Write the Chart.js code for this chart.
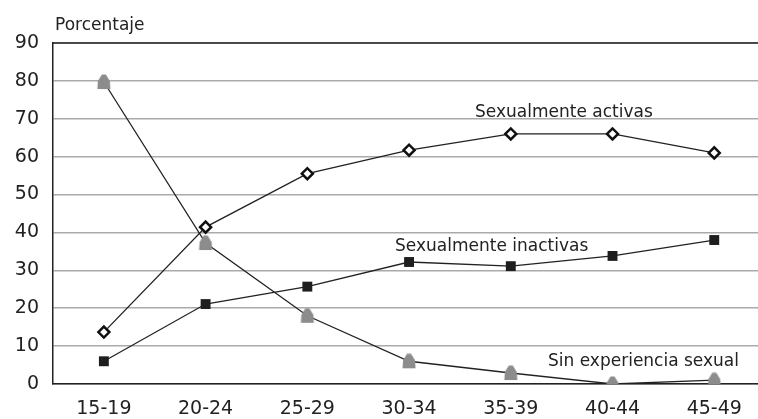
<!DOCTYPE html>
<html>
<head>
<script src="https://cdn.jsdelivr.net/npm/chart.js@4.4.2/dist/chart.umd.min.js"></script>
<style>
html, body {
    margin: 0;
    padding: 0;
    background: #fff;
    overflow: hidden;
}
</style>
</head>
<body>
<canvas id="chart" width="758" height="419"></canvas>
<script>
const ageGroups = ["15-19", "20-24", "25-29", "30-34", "35-39", "40-44", "45-49"];
const activas = [13.7, 41.4, 55.5, 61.7, 66, 66, 61];
const inactivas = [6, 21.1, 25.7, 32.2, 31.1, 33.8, 38];
const sinExperiencia = [79.7, 37.2, 18, 6, 2.9, 0, 1];
const yTicks = [0, 10, 20, 30, 40, 50, 60, 70, 80, 90];

const fontName = "'DejaVu Sans', sans-serif";

// the original plot runs a bit past the right edge, so use a numeric x axis
const toPoints = (values) => values.map((v, i) => ({ x: i, y: v }));

// gray "house" marker for the third series
const house = document.createElement("canvas");
house.width = 16;
house.height = 16;
(() => {
    const c = house.getContext("2d");
    c.fillStyle = "#8c8c8c";
    c.beginPath();
    c.moveTo(6, 0.5);
    c.lineTo(10, 0.5);
    c.lineTo(14, 7);
    c.lineTo(14.5, 15);
    c.lineTo(1.5, 15);
    c.lineTo(2, 7);
    c.closePath();
    c.fill();
})();

const labelsPlugin = {
    id: "labels",
    afterDraw(chart) {
        const ctx = chart.ctx;
        const area = chart.chartArea;
        ctx.save();
        // dark top border
        ctx.strokeStyle = "#222";
        ctx.lineWidth = 1.5;
        ctx.beginPath();
        ctx.moveTo(area.left, area.top);
        ctx.lineTo(area.right, area.top);
        ctx.stroke();

        ctx.fillStyle = "#222";
        ctx.textBaseline = "middle";
        ctx.font = "17px " + fontName;
        ctx.fillText("Porcentaje", 55, 26);
        ctx.fillText("Sexualmente activas", 475, 113);
        ctx.fillText("Sexualmente inactivas", 395, 247);
        ctx.fillText("Sin experiencia sexual", 548, 362);
        ctx.restore();
    }
};

const ctx = document.getElementById("chart").getContext("2d");
new Chart(ctx, {
    type: "line",
    data: {
        datasets: [
            {
                label: "Sin experiencia sexual",
                data: toPoints(sinExperiencia),
                borderColor: "#222",
                borderWidth: 1.3,
                pointStyle: house,
                order: 3
            },
            {
                label: "Sexualmente inactivas",
                data: toPoints(inactivas),
                borderColor: "#222",
                borderWidth: 1.3,
                pointStyle: "rect",
                pointRadius: 7,
                pointBackgroundColor: "#1e1e1e",
                pointBorderColor: "#1e1e1e",
                pointBorderWidth: 0,
                order: 2
            },
            {
                label: "Sexualmente activas",
                data: toPoints(activas),
                borderColor: "#222",
                borderWidth: 1.3,
                pointStyle: "rectRot",
                pointRadius: 5.5,
                pointBackgroundColor: "#fff",
                pointBorderColor: "#111",
                pointBorderWidth: 2.5,
                order: 1
            }
        ]
    },
    options: {
        responsive: false,
        animation: false,
        layout: {
            autoPadding: false,
            padding: { top: 43, right: 0, left: 0, bottom: 0 }
        },
        plugins: {
            legend: { display: false },
            tooltip: { enabled: false }
        },
        scales: {
            x: {
                type: "linear",
                min: -0.5,
                max: 6.43,
                afterBuildTicks: (scale) => {
                    scale.ticks = ageGroups.map((g, i) => ({ value: i }));
                },
                grid: { display: false },
                border: { color: "#222", width: 1.5 },
                ticks: {
                    color: "#222",
                    padding: 6,
                    maxRotation: 0,
                    autoSkip: false,
                    font: { family: fontName, size: 19 },
                    callback: (value) => ageGroups[value]
                },
                afterFit: (scale) => {
                    scale.height = 35;
                    scale.paddingLeft = 0;
                    scale.paddingRight = 0;
                }
            },
            y: {
                min: 0,
                max: 90,
                afterBuildTicks: (scale) => {
                    scale.ticks = yTicks.map(v => ({ value: v }));
                },
                grid: {
                    color: "#aaa",
                    lineWidth: 1.5,
                    drawTicks: false
                },
                border: { color: "#222", width: 1.5 },
                ticks: {
                    color: "#222",
                    padding: 14,
                    font: { family: fontName, size: 19 }
                },
                afterFit: (scale) => { scale.width = 53; }
            }
        }
    },
    plugins: [labelsPlugin]
});
</script>
</body>
</html>
